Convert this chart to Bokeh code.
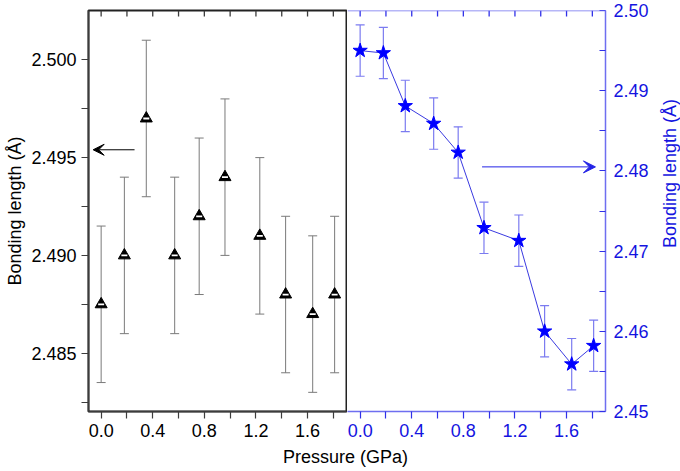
import math
import numpy as np
from bokeh.plotting import figure
from bokeh.models import (Range1d, LinearAxis, FixedTicker, PrintfTickFormatter, Whisker, TeeHead,
                          ColumnDataSource, Arrow, VeeHead, Label, Span)
from bokeh.layouts import row, column
from bokeh.embed import file_html
from bokeh.resources import INLINE

# ---------------- data ----------------
pressure = [0.0, 0.18, 0.35, 0.57, 0.76, 0.96, 1.23, 1.43, 1.64, 1.81]
bond_left = [2.4875, 2.4900, 2.4970, 2.4900, 2.4920, 2.4940, 2.4910, 2.4880, 2.4870, 2.4880]
bond_left_err = [0.004, 0.004, 0.004, 0.004, 0.004, 0.004, 0.004, 0.004, 0.004, 0.004]
bond_right = [2.4950, 2.4947, 2.4881, 2.4859, 2.4823, 2.4729, 2.4713, 2.4600, 2.4559, 2.4582]
bond_right_err = [0.0032, 0.0032, 0.0032, 0.0032, 0.0032, 0.0032, 0.0032, 0.0032, 0.0032, 0.0032]

x_ticks = [0.0, 0.4, 0.8, 1.2, 1.6]
x_minor = [0.2, 0.6, 1.0, 1.4, 1.8]
yl_ticks = [2.485, 2.490, 2.495, 2.500]
yl_minor = [2.4825, 2.4875, 2.4925, 2.4975]
yr_ticks = [2.45, 2.46, 2.47, 2.48, 2.49, 2.50]
yr_minor = [2.455, 2.465, 2.475, 2.485, 2.495]

x_label = "Pressure (GPa)"
y_label = "Bonding length (Å)"

# arrows (annotation positions, data units)
arrow_left = dict(x_start=0.259, x_end=-0.062, y=2.4954)
arrow_right = dict(x_start=0.945, x_end=1.824, y=2.4805)

FONT = "Liberation Sans"
FS = "18px"
GRAY = "#3c3c3c"
BLUE = "#0000ff"
BLUE_TXT = "#1414e0"
BLUE_AX = "#6e6ef0"
BLUE_TICK = "#3030e8"
BLUE_ERR = "#7b7bf0"

H_MAIN = 444
W_LEFT = 347
W_RIGHT = 311
W_RTITLE = 22
B_TOP, B_BOTTOM = 10, 33
FRAME_H = H_MAIN - B_TOP - B_BOTTOM
TOP_TICK_PX = 6


def style_axis(ax, line_color, tick_color, label_color, tin, tout, standoff=5):
    ax.axis_line_color = line_color
    ax.axis_line_width = 1.5
    ax.major_tick_line_color = tick_color
    ax.minor_tick_line_color = tick_color
    ax.major_tick_line_width = 1.2
    ax.minor_tick_line_width = 1.2
    ax.major_tick_in = tin
    ax.major_tick_out = tout
    ax.minor_tick_in = tin
    ax.minor_tick_out = tout
    ax.major_label_text_font = FONT
    ax.major_label_text_font_size = FS
    ax.major_label_standoff = standoff
    ax.major_label_text_color = label_color
    ax.axis_label_text_font = FONT
    ax.axis_label_text_font_style = "normal"
    ax.axis_label_text_font_size = FS
    ax.axis_label_text_color = label_color


def top_ticks(p, color):
    # inward tick marks along the top edge of the frame, at the x tick positions
    xs = x_ticks + x_minor
    yr = p.y_range
    d = TOP_TICK_PX * (yr.end - yr.start) / FRAME_H
    p.segment(x0=xs, y0=[yr.end] * len(xs), x1=xs, y1=[yr.end - d] * len(xs),
              line_color=color, line_width=1.3)


# ---------------- left panel ----------------
pl = figure(width=W_LEFT, height=H_MAIN, x_range=Range1d(-0.098, 1.902), y_range=Range1d(2.48202, 2.50252),
            x_axis_type=None, y_axis_type=None, toolbar_location=None, output_backend="svg",
            min_border_left=88, min_border_right=1, min_border_top=B_TOP, min_border_bottom=B_BOTTOM)
pl.outline_line_color = "#222222"
pl.outline_line_width = 2

axl = LinearAxis(ticker=FixedTicker(ticks=yl_ticks, minor_ticks=yl_minor),
                 formatter=PrintfTickFormatter(format="%.3f"), axis_label=y_label)
style_axis(axl, GRAY, GRAY, "black", 0, 7, standoff=5)
axl.axis_label_standoff = 3
pl.add_layout(axl, "left")

axb = LinearAxis(ticker=FixedTicker(ticks=x_ticks, minor_ticks=x_minor),
                 formatter=PrintfTickFormatter(format="%.1f"))
style_axis(axb, GRAY, GRAY, "black", 0, 7, standoff=5)
pl.add_layout(axb, "below")

top_ticks(pl, GRAY)

lo_l = (np.array(bond_left) - np.array(bond_left_err)).tolist()
hi_l = (np.array(bond_left) + np.array(bond_left_err)).tolist()
src_l = ColumnDataSource(dict(x=pressure, y=bond_left, lo=lo_l, hi=hi_l))
pl.add_layout(Whisker(source=src_l, base="x", upper="hi", lower="lo", line_color="#7a7a7a", line_width=1,
                      upper_head=TeeHead(size=9, line_color="#7a7a7a", line_width=1),
                      lower_head=TeeHead(size=9, line_color="#7a7a7a", line_width=1)))
pl.scatter("x", "y", source=src_l, marker="triangle", size=12, fill_color="black",
           line_color="black", line_width=1)
pl.scatter("x", "y", source=src_l, marker="dash", size=6, line_color="white", line_width=1.8)

pl.add_layout(Arrow(x_start=arrow_left["x_start"], y_start=arrow_left["y"],
                    x_end=arrow_left["x_end"], y_end=arrow_left["y"],
                    line_color="black", line_width=1,
                    end=VeeHead(size=11, fill_color="black", line_color="black", line_width=1)))

# ---------------- right panel ----------------
pr = figure(width=W_RIGHT, height=H_MAIN, x_range=Range1d(-0.098, 1.902), y_range=Range1d(2.45, 2.50),
            x_axis_type=None, y_axis_type=None, toolbar_location=None, output_backend="svg",
            min_border_left=0, min_border_right=W_RIGHT - 258, min_border_top=B_TOP,
            min_border_bottom=B_BOTTOM)
pr.outline_line_color = None

axr = LinearAxis(ticker=FixedTicker(ticks=yr_ticks, minor_ticks=yr_minor),
                 formatter=PrintfTickFormatter(format="%.2f"))
style_axis(axr, BLUE_AX, BLUE_TICK, BLUE_TXT, 6, 0, standoff=8)
pr.add_layout(axr, "right")

axrb = LinearAxis(ticker=FixedTicker(ticks=x_ticks, minor_ticks=x_minor),
                  formatter=PrintfTickFormatter(format="%.1f"))
style_axis(axrb, BLUE_AX, BLUE_TICK, BLUE_TXT, 0, 7, standoff=5)
pr.add_layout(axrb, "below")

pr.add_layout(Span(location=pr.y_range.end, dimension="width", line_color=BLUE_AX, line_width=1.5))
top_ticks(pr, BLUE_TICK)

lo_r = (np.array(bond_right) - np.array(bond_right_err)).tolist()
hi_r = (np.array(bond_right) + np.array(bond_right_err)).tolist()
src_r = ColumnDataSource(dict(x=pressure, y=bond_right, lo=lo_r, hi=hi_r))
pr.add_layout(Whisker(source=src_r, base="x", upper="hi", lower="lo", line_color=BLUE_ERR, line_width=1.2,
                      upper_head=TeeHead(size=9, line_color=BLUE_ERR, line_width=1.2),
                      lower_head=TeeHead(size=9, line_color=BLUE_ERR, line_width=1.2)))
pr.line("x", "y", source=src_r, line_color="#3a3ae0", line_width=1)
pr.scatter("x", "y", source=src_r, marker="star", size=15, fill_color=BLUE, line_color=BLUE, line_width=1)

pr.add_layout(Arrow(x_start=arrow_right["x_start"], y_start=arrow_right["y"],
                    x_end=arrow_right["x_end"], y_end=arrow_right["y"],
                    line_color="#2323e6", line_width=1,
                    end=VeeHead(size=12, fill_color="#2323e6", line_color="#2323e6", line_width=1)))

# ---------------- right axis title strip (reads bottom-to-top) ----------------
pv = figure(width=W_RTITLE, height=H_MAIN, x_range=Range1d(0, W_RTITLE), y_range=Range1d(0, H_MAIN),
            x_axis_type=None, y_axis_type=None, toolbar_location=None, output_backend="svg",
            min_border=0)
pv.outline_line_color = None
pv.add_layout(Label(x=11, y=H_MAIN - 206, x_units="screen", y_units="screen",
                    text=y_label, angle=math.pi / 2, text_align="center", text_baseline="middle",
                    text_font=FONT, text_font_size=FS, text_color=BLUE_TXT))

# ---------------- x-axis title strip ----------------
W_ALL = W_LEFT + W_RIGHT + W_RTITLE
H_STRIP = 471 - H_MAIN
pf = figure(width=W_ALL, height=H_STRIP, x_range=Range1d(0, W_ALL), y_range=Range1d(0, H_STRIP),
            x_axis_type=None, y_axis_type=None, toolbar_location=None, output_backend="svg",
            min_border=0)
pf.outline_line_color = None
pf.add_layout(Label(x=345, y=15, x_units="screen", y_units="screen", text=x_label,
                    text_align="center", text_baseline="middle", text_font=FONT,
                    text_font_size=FS, text_color="black"))

layout = column(row(pl, pr, pv), pf)

open("out.html", "w").write(file_html(layout, INLINE))
